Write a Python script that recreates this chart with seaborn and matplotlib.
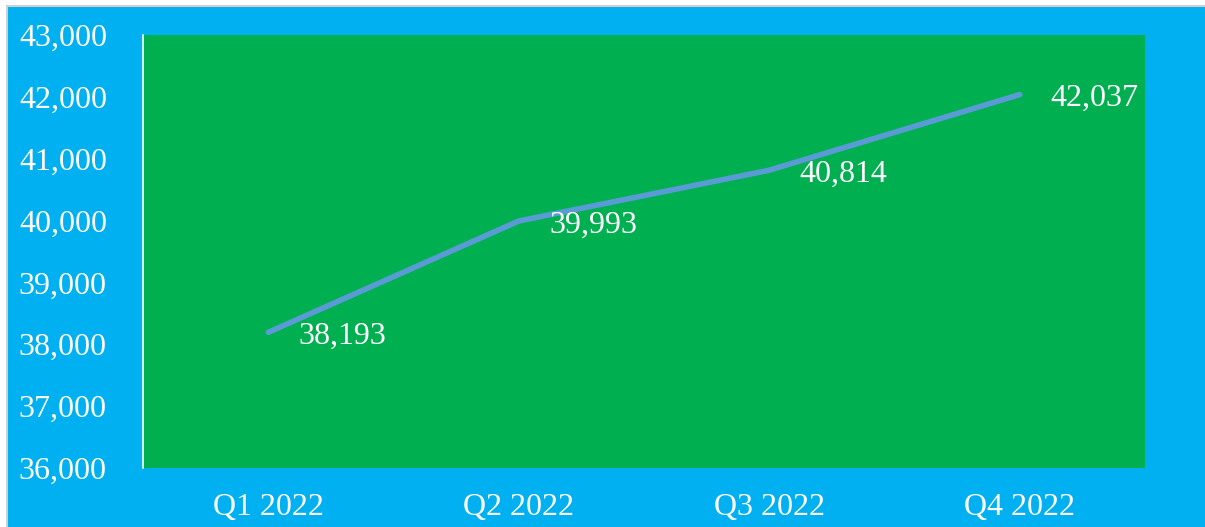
import matplotlib
matplotlib.use('Agg')
import matplotlib.pyplot as plt
import matplotlib.patches as mpatches
from matplotlib.ticker import FuncFormatter
import seaborn as sns

quarters = ['Q1 2022', 'Q2 2022', 'Q3 2022', 'Q4 2022']
values = [38193, 39993, 40814, 42037]

sns.set_style('white')
plt.rcParams['font.family'] = ['Liberation Serif', 'DejaVu Serif']

blue_bg = '#00B0F0'
green_bg = '#00B050'
line_col = '#5B9BD5'

fig = plt.figure(figsize=(12.05, 5.27), dpi=100, facecolor='white')
# outer chart box with thin grey border on top/left
fig.patches.append(mpatches.Rectangle((7 / 1205, -0.01), 1.1, 1 - 6 / 527 + 0.01,
                                      transform=fig.transFigure, facecolor=blue_bg,
                                      edgecolor='#D0D0D0', linewidth=1.5, zorder=-10))
ax = fig.add_axes([143 / 1205, 59 / 527, 1002 / 1205, 433 / 527])
ax.set_zorder(1)
ax.set_facecolor(green_bg)

sns.lineplot(x=quarters, y=values, ax=ax, color=line_col, linewidth=4,
             solid_capstyle='round', sort=False)

for i, v in enumerate(values):
    ax.annotate(f'{v:,}', (i, v), xytext=(22, -3), textcoords='offset points',
                ha='left', va='center', color='white', fontsize=23)

ax.set_xlim(-0.5, 3.5)
ax.set_ylim(36000, 43000)
ax.set_yticks(range(36000, 43001, 1000))
ax.yaxis.set_major_formatter(FuncFormatter(lambda v, p: f'{int(v):,}'))
ax.tick_params(axis='y', length=0, pad=26, labelsize=23, labelcolor='white')
ax.tick_params(axis='x', length=0, pad=18, labelsize=23, labelcolor='white')
ax.set_xlabel('')
ax.set_ylabel('')

for s in ['top', 'right', 'bottom']:
    ax.spines[s].set_visible(False)
ax.spines['left'].set_color('white')
ax.spines['left'].set_linewidth(1.2)

fig.savefig('out.png', dpi=100, facecolor=fig.get_facecolor())
